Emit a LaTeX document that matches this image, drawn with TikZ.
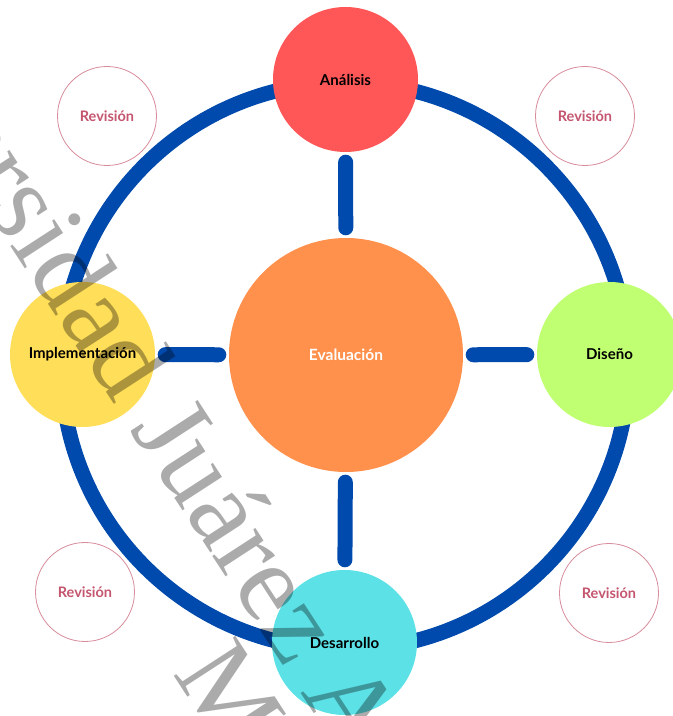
\documentclass[tikz,border=0pt]{standalone}
\usepackage{fontspec}
\setmainfont{Lato}
\newfontfamily\wmfont{Liberation Serif}
\usetikzlibrary{positioning}

\definecolor{ringblue}{HTML}{004AAD}
\definecolor{anared}{HTML}{FF5757}
\definecolor{evalorange}{HTML}{FF914D}
\definecolor{disgreen}{HTML}{C1FF72}
\definecolor{implyellow}{HTML}{FFDE59}
\definecolor{descyan}{HTML}{5CE1E6}
\definecolor{revline}{HTML}{D88C9C}
\definecolor{revtext}{HTML}{C5566F}

\tikzset{
	stage/.style={circle, minimum size=145pt, inner sep=0pt, text=black,
		font=\bfseries\fontsize{15}{18}\selectfont},
	revision/.style={circle, draw=revline, line width=0.8pt, minimum size=99pt,
		inner sep=0pt, text=revtext, font=\bfseries\fontsize{14.5}{17}\selectfont},
	ring/.style={draw=ringblue, line width=15pt},
	spoke/.style={draw=ringblue, line width=15pt, line cap=round,
		shorten <=10pt, shorten >=10pt},
	watermark/.style={text=black, text opacity=0.33, inner sep=0pt,
		font=\wmfont\fontsize{112}{120}\selectfont}
}

\begin{document}
\begin{tikzpicture}[x=1pt, y=1pt]
	\useasboundingbox (0, 0) rectangle (673, 716);
	\fill[white] (0, 0) rectangle (673, 716);

	% Outer cycle
	\coordinate (C) at (345, 350);
	\draw[ring] (C) circle (283.5pt);

	% Stages of the cycle
	\node[circle, fill=evalorange, minimum size=234pt, inner sep=0pt, text=white,
		font=\bfseries\fontsize{15.5}{18}\selectfont] (eval) at (346, 361) {Evaluación};
	\node[stage, fill=anared] (ana) at (345.5, 636.5) {Análisis};
	\node[stage, fill=disgreen] (dis) at (609.5, 361.5) {Diseño};
	\node[stage, fill=descyan] (des) at (344.5, 73.5) {Desarrollo};
	\node[stage, fill=implyellow] (impl) at (82.5, 361.5) {Implementación};

	% Spokes to the centre
	\draw[spoke] (ana) -- (eval);
	\draw[spoke] (dis) -- (eval);
	\draw[spoke] (des) -- (eval);
	\draw[spoke] (impl) -- (eval);

	% Review bubbles
	\node[revision] (rev1) at (107, 600) {Revisión};
	\node[revision] (rev2) at (585, 600) {Revisión};
	\node[revision] (rev3) at (85, 124) {Revisión};
	\node[revision] (rev4) at (609, 123) {Revisión};

	% Watermark
	\begin{scope}[shift={(331, -23)}, rotate=-57, transform shape]
		\node[watermark, anchor=base] (wm1) at (0, 0) {Universidad Juárez Autónoma de Tabasco};
		\node[watermark, anchor=base] (wm2) at (30, -97) {México};
	\end{scope}
\end{tikzpicture}
\end{document}
